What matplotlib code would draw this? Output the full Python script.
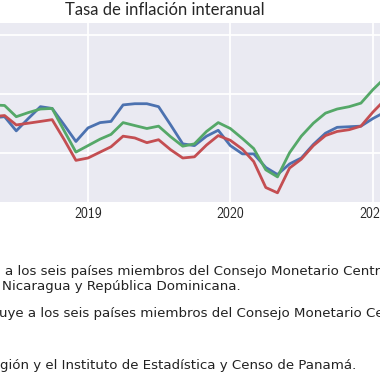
import matplotlib
matplotlib.use("Agg")
import matplotlib.pyplot as plt
import matplotlib.dates as mdates
import pandas as pd

# meses mayo 2018 - febrero 2021
meses = pd.date_range("2018-05-01", "2021-02-01", freq="MS")

cmca = [1.59, 1.61, 1.37, 1.58, 1.78, 1.75, 1.47, 1.19, 1.42, 1.51, 1.53, 1.81,
        1.83, 1.83, 1.78, 1.47, 1.15, 1.12, 1.28, 1.38, 1.12, 0.98, 0.98, 0.75,
        0.63, 0.81, 0.91, 1.14, 1.33, 1.43, 1.44, 1.45, 1.58, 1.69]
otros = [1.81, 1.80, 1.61, 1.68, 1.74, 1.75, 1.37, 1.01, 1.12, 1.23, 1.31, 1.51,
         1.46, 1.41, 1.45, 1.27, 1.11, 1.15, 1.36, 1.51, 1.41, 1.24, 1.07, 0.71,
         0.59, 1.00, 1.28, 1.50, 1.67, 1.74, 1.78, 1.84, 2.07, 2.27]
total = [1.61, 1.63, 1.47, 1.50, 1.53, 1.56, 1.22, 0.87, 0.91, 1.01, 1.10, 1.28,
         1.25, 1.17, 1.22, 1.05, 0.91, 0.93, 1.13, 1.29, 1.21, 1.06, 0.85, 0.41,
         0.32, 0.74, 0.89, 1.12, 1.29, 1.36, 1.39, 1.45, 1.69, 1.90]

titulo = "Tasa de inflación interanual"

W, H = 380, 380
fig = plt.figure(figsize=(3.8, 3.8), dpi=100)
fig.patch.set_facecolor("white")

# ejes mas anchos que la figura (recorte del original)
x0, x1 = -31.3, 408.1
y_top, y_bot = 22.7, 201.7
ax = fig.add_axes([x0 / W, 1 - y_bot / H, (x1 - x0) / W, (y_bot - y_top) / H])
ax.set_facecolor("#EAEAF2")
for s in ax.spines.values():
    s.set_visible(False)

ax.plot(meses, cmca, color="#4C72B0", lw=2.0)
ax.plot(meses, otros, color="#55A868", lw=2.0)
ax.plot(meses, total, color="#C44E52", lw=2.0)

ax.set_xlim(pd.Timestamp("2018-03-01"), pd.Timestamp("2021-04-01"))
ax.set_ylim(0.1695, 3.203)
ax.set_yticks([1, 2, 3])
ax.set_yticklabels([])
ax.xaxis.set_major_locator(mdates.YearLocator())
ax.xaxis.set_major_formatter(mdates.DateFormatter("%Y"))
ax.grid(True, color="white", lw=1.3)
ax.set_axisbelow(True)
ax.tick_params(length=0, pad=4, labelsize=10, labelcolor="#262626")
for t in ax.get_xticklabels():
    t.set_family(["cmss10", "DejaVu Sans"])

ax.set_title(titulo, x=(165 - x0) / (x1 - x0), pad=5.5, fontsize=12,
             color="#262626", family="Lato")

# notas al pie (cortadas por los bordes)
tx = dict(fontsize=9.6, color="#222222", family="DejaVu Sans", va="center")
fig.text(-2 / W, 1 - 271.7 / H, "1/ Incluye", ha="right", **tx)
fig.text(5 / W, 1 - 271.7 / H,
         "a los seis países miembros del Consejo Monetario Centroamericano: Costa Rica, El Salvador, Guatemala, Honduras,",
         ha="left", **tx)
fig.text(2 / W, 1 - 286.7 / H, "Nicaragua y República Dominicana.", ha="left", **tx)
fig.text(-1 / W, 1 - 313.3 / H, "2/ Excl", ha="right", **tx)
fig.text(-1 / W, 1 - 313.3 / H,
         "uye a los seis países miembros del Consejo Monetario Centroamericano.",
         ha="left", **tx)
fig.text(0, 1 - 365 / H, "Fuente: Bancos centrales de la re", ha="right", **tx)
fig.text(0, 1 - 365 / H,
         "gión y el Instituto de Estadística y Censo de Panamá.", ha="left", **tx)

fig.savefig("out.png", dpi=100)
